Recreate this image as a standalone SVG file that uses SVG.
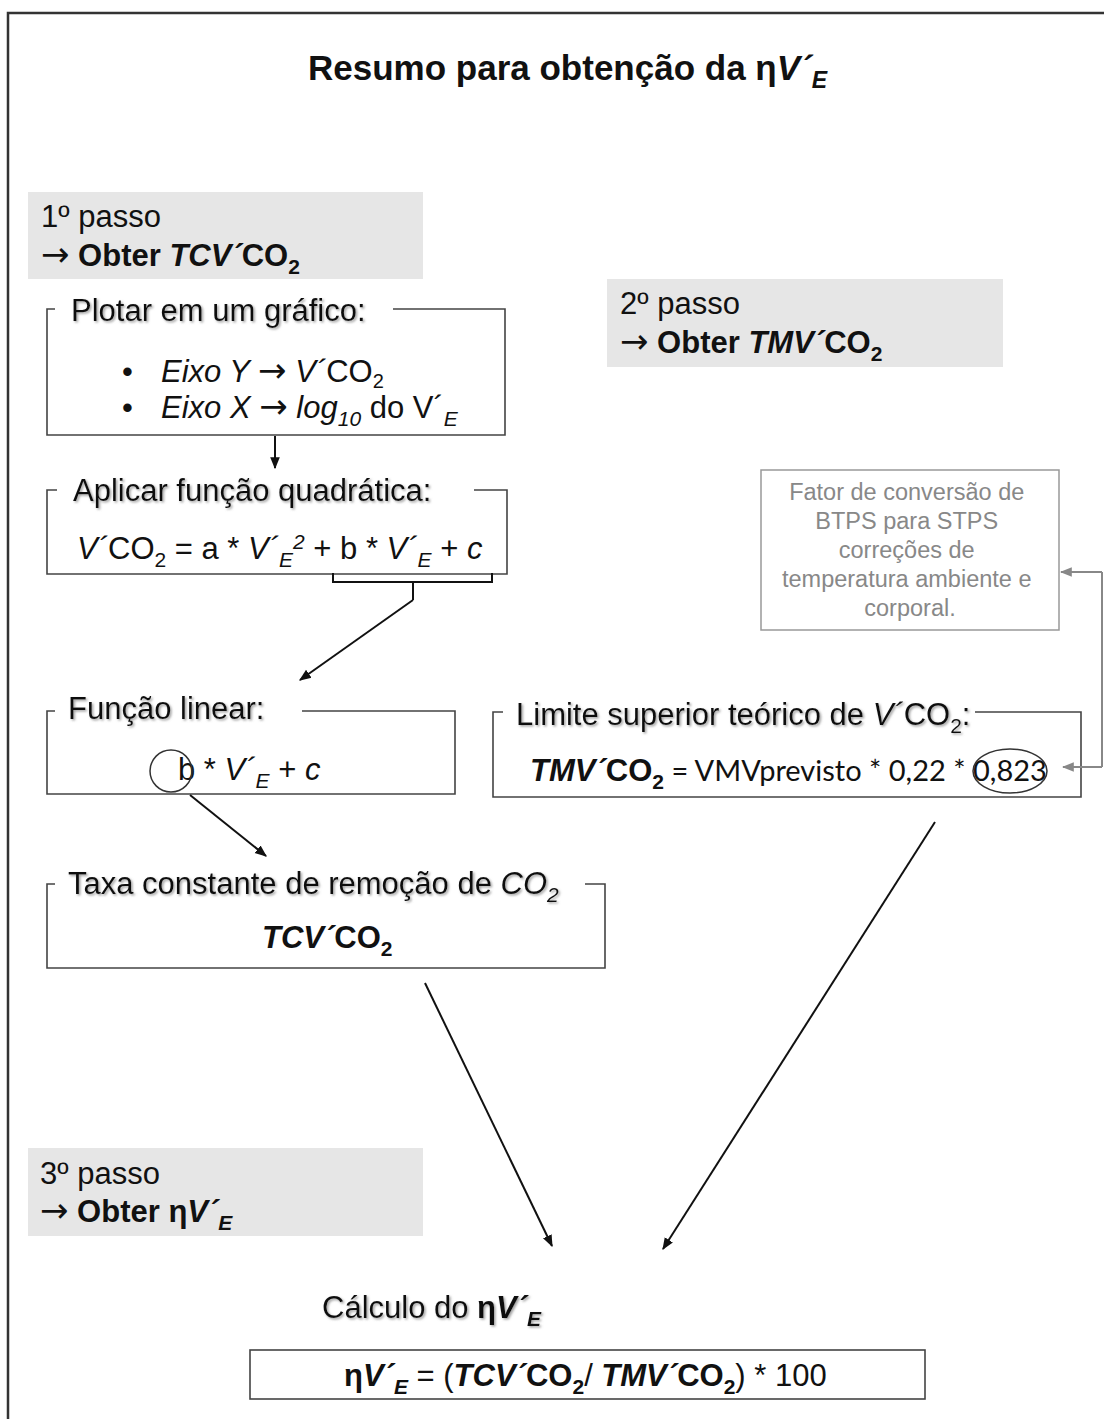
<svg xmlns="http://www.w3.org/2000/svg" width="1104" height="1419" viewBox="0 0 1104 1419">
<style>
text{font-family:"Liberation Sans",Arial,sans-serif;fill:#111}
.t28{font-size:31px}
.b{font-weight:bold}
.i{font-style:italic}
.ar{font-family:"DejaVu Sans",sans-serif;font-weight:normal;font-size:34px}
.ttl{font-size:31px;filter:url(#sh)}
.box{fill:none;stroke:#444;stroke-width:1.6}
.step{fill:#e6e6e6}
.conn{stroke:#111;stroke-width:2;fill:none}
.gconn{stroke:#888;stroke-width:2;fill:none}
.cal{font-family:Lato,"Open Sans","Liberation Sans",sans-serif}
</style>
<defs>
<filter id="sh" x="-5%" y="-20%" width="110%" height="150%">
<feDropShadow dx="1.5" dy="1.5" stdDeviation="1" flood-color="#888" flood-opacity="0.8"/>
</filter>
<marker id="ah" viewBox="0 0 10 10" refX="9" refY="5" markerWidth="6" markerHeight="6" orient="auto-start-reverse">
<path d="M0,1 L10,5 L0,9 z" fill="#111"/>
</marker>
<marker id="gah" viewBox="0 0 10 10" refX="9" refY="5" markerWidth="6" markerHeight="6" orient="auto-start-reverse">
<path d="M0,1 L10,5 L0,9 z" fill="#888"/>
</marker>
</defs>
<rect width="1104" height="1419" fill="#fff"/>
<path d="M8,1419 V13 H1104" fill="none" stroke="#333" stroke-width="2.5"/>

<g id="title">
<text x="308" y="80" class="b" font-size="35">Resumo para obtenção da η<tspan class="i">V´</tspan><tspan class="i" font-size="23" dy="8">E</tspan></text>
</g>

<g id="step1">
<rect class="step" x="28" y="192" width="395" height="87"/>
<text x="41" y="227" class="t28">1º passo</text>
<text x="41" y="266" class="t28 b"><tspan class="ar">→</tspan> Obter <tspan class="i">TCV´</tspan>CO<tspan font-size="21" dy="8">2</tspan></text>
</g>

<g id="plot">
<path class="box" d="M393,309 H505 V435 H47 V309 H55"/>
<text x="71" y="321" class="ttl">Plotar em um gráfico:</text>
<text x="122" y="382" class="t28">•</text>
<text x="161" y="382" class="t28"><tspan class="i">Eixo Y </tspan><tspan class="ar">→</tspan><tspan class="i"> V´</tspan>CO<tspan font-size="20" dy="6">2</tspan></text>
<text x="122" y="418" class="t28">•</text>
<text x="161" y="418" class="t28"><tspan class="i">Eixo X </tspan><tspan class="ar">→</tspan><tspan class="i"> log</tspan><tspan class="i" font-size="21" dy="8">10</tspan><tspan dy="-8"> do V´</tspan><tspan class="i" font-size="21" dy="8">E</tspan></text>
</g>

<g id="quad">
<path class="box" d="M474,490 H507 V574 H47 V490 H57"/>
<text x="73" y="501" class="ttl">Aplicar função quadrática:</text>
<text x="77" y="559" class="t28"><tspan class="i">V´</tspan>CO<tspan font-size="21" dy="8">2</tspan><tspan dy="-8"> = a * </tspan><tspan class="i">V´</tspan><tspan class="i" font-size="21" dy="8">E</tspan><tspan class="i" font-size="21" dy="-18">2</tspan><tspan dy="10"> + b * </tspan><tspan class="i">V´</tspan><tspan class="i" font-size="21" dy="8">E</tspan><tspan dy="-8"> + </tspan><tspan class="i">c</tspan></text>
</g>

<g id="linear">
<path class="box" d="M302,711 H455 V794 H47 V711 H55"/>
<text x="68" y="719" class="ttl">Função linear:</text>
<text x="178" y="780" class="t28">b * <tspan class="i">V´</tspan><tspan class="i" font-size="21" dy="8">E</tspan><tspan dy="-8"> + </tspan><tspan class="i">c</tspan></text>
<circle cx="171" cy="771" r="21" fill="none" stroke="#333" stroke-width="1.5"/>
</g>

<g id="taxa">
<path class="box" d="M585,884 H605 V968 H47 V884 H55"/>
<text x="68" y="894" class="ttl">Taxa constante de remoção de <tspan class="i">CO</tspan><tspan class="i" font-size="21" dy="8">2</tspan></text>
<text x="262" y="948" class="t28 b"><tspan class="i">TCV´</tspan>CO<tspan font-size="21" dy="8">2</tspan></text>
</g>

<g id="step2">
<rect class="step" x="607" y="279" width="396" height="88"/>
<text x="620" y="314" class="t28">2º passo</text>
<text x="620" y="353" class="t28 b"><tspan class="ar">→</tspan> Obter <tspan class="i">TMV´</tspan>CO<tspan font-size="21" dy="8">2</tspan></text>
</g>

<g id="conversion">
<rect x="761" y="470" width="298" height="160" fill="#fff" stroke="#999" stroke-width="1.5"/>
<text font-size="23.5" text-anchor="middle" style="fill:#888">
<tspan x="910" y="500">Fator de conversão de</tspan>
<tspan x="910" y="529">BTPS para STPS</tspan>
<tspan x="910" y="558">correções de</tspan>
<tspan x="910" y="587">temperatura ambiente e</tspan>
<tspan x="910" y="616">corporal.</tspan>
</text>
</g>

<g id="limite">
<path class="box" d="M975,712 H1081 V797 H493 V712 H503"/>
<text x="516" y="725" class="ttl">Limite superior teórico de <tspan class="i">V´</tspan>CO<tspan font-size="21" dy="8">2</tspan><tspan dy="-8">:</tspan></text>
<text x="530" y="781" class="t28"><tspan class="b i">TMV´</tspan><tspan class="b">CO</tspan><tspan class="b" font-size="21" dy="8">2</tspan><tspan class="cal" font-size="29" dy="-8"> = VMVprevisto * 0,22 * 0,823</tspan></text>
<ellipse cx="1010" cy="771" rx="37" ry="22" fill="none" stroke="#333" stroke-width="1.5"/>
</g>

<g id="step3">
<rect class="step" x="28" y="1148" width="395" height="88"/>
<text x="40" y="1184" class="t28">3º passo</text>
<text x="40" y="1222" class="t28 b"><tspan class="ar">→</tspan> Obter η<tspan class="i">V´</tspan><tspan class="i" font-size="21" dy="8">E</tspan></text>
</g>

<g id="calculo">
<text x="322" y="1318" class="ttl">Cálculo do <tspan class="b">η</tspan><tspan class="b i">V´</tspan><tspan class="b i" font-size="21" dy="8">E</tspan></text>
<rect class="box" x="250" y="1350" width="675" height="49"/>
<text x="344" y="1386" class="t28"><tspan class="b">η</tspan><tspan class="b i">V´</tspan><tspan class="b i" font-size="21" dy="8">E</tspan><tspan dy="-8"> = (</tspan><tspan class="b i">TCV´</tspan><tspan class="b">CO</tspan><tspan class="b" font-size="21" dy="8">2</tspan><tspan dy="-8">/ </tspan><tspan class="b i">TMV´</tspan><tspan class="b">CO</tspan><tspan class="b" font-size="21" dy="8">2</tspan><tspan dy="-8">) * 100</tspan></text>
</g>

<g id="connectors">
<line class="conn" x1="275" y1="436" x2="275" y2="468" marker-end="url(#ah)"/>
<path class="conn" d="M333,573 V582 H492 V573 M413,582 V600"/>
<line class="conn" x1="413" y1="600" x2="300" y2="680" marker-end="url(#ah)"/>
<line class="conn" x1="190" y1="795" x2="266" y2="856" marker-end="url(#ah)"/>
<line class="conn" x1="425" y1="983" x2="552" y2="1246" marker-end="url(#ah)"/>
<line class="conn" x1="935" y1="822" x2="663" y2="1249" marker-end="url(#ah)"/>
<path class="gconn" d="M1102,572 V767"/>
<line class="gconn" x1="1102" y1="572" x2="1061" y2="572" marker-end="url(#gah)"/>
<line class="gconn" x1="1102" y1="767" x2="1063" y2="767" marker-end="url(#gah)"/>
</g>
</svg>
